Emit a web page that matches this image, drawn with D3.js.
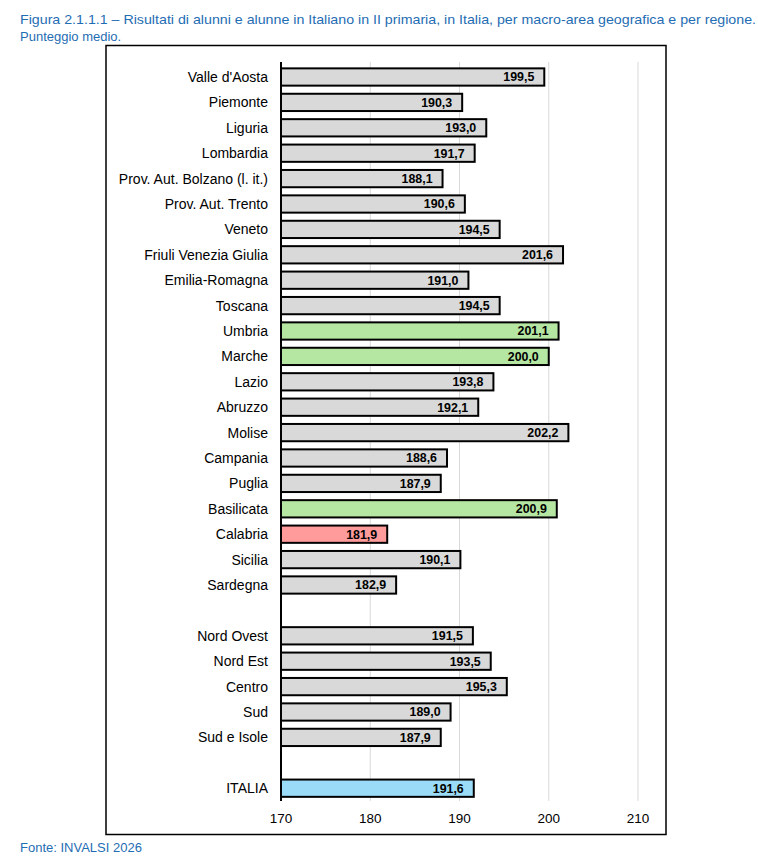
<!DOCTYPE html>
<html>
<head>
<meta charset="utf-8">
<script src="https://cdn.jsdelivr.net/npm/d3@7"></script>
<style>
  body { margin: 0; background: #fff; }
  svg { display: block; font-family: "Liberation Sans", Arial, sans-serif; }
</style>
</head>
<body>
<div id="chart"></div>
<script>
// regions, then macro-areas, then the national total
const regions = ["Valle d'Aosta", "Piemonte", "Liguria", "Lombardia", "Prov. Aut. Bolzano (l. it.)",
  "Prov. Aut. Trento", "Veneto", "Friuli Venezia Giulia", "Emilia-Romagna", "Toscana", "Umbria",
  "Marche", "Lazio", "Abruzzo", "Molise", "Campania", "Puglia", "Basilicata", "Calabria",
  "Sicilia", "Sardegna"];
const regionValues = [199.5, 190.3, 193.0, 191.7, 188.1, 190.6, 194.5, 201.6, 191.0, 194.5, 201.1,
  200.0, 193.8, 192.1, 202.2, 188.6, 187.9, 200.9, 181.9, 190.1, 182.9];
const macroAreas = ["Nord Ovest", "Nord Est", "Centro", "Sud", "Sud e Isole"];
const macroValues = [191.5, 193.5, 195.3, 189.0, 187.9];
const totalLabel = ["ITALIA"];
const totalValues = [191.6];
const xTicks = [170, 180, 190, 200, 210];

// significance: above / below national mean
const higher = ["Umbria", "Marche", "Basilicata"];
const lower = ["Calabria"];

const width = 758;
const height = 862;

const svg = d3.select("#chart")
  .append("svg")
  .attr("width", width)
  .attr("height", height);

// title
const title = svg.append("text")
  .attr("x", 20)
  .attr("y", 24)
  .attr("fill", "#1f6db3")
  .attr("font-size", 13);
title.append("tspan")
  .attr("x", 20)
  .attr("textLength", 736)
  .attr("lengthAdjust", "spacingAndGlyphs")
  .text("Figura 2.1.1.1 – Risultati di alunni e alunne in Italiano in II primaria, in Italia, per macro-area geografica e per regione.");
title.append("tspan")
  .attr("x", 20)
  .attr("dy", 17)
  .text("Punteggio medio.");

// frame
svg.append("rect")
  .attr("x", 106)
  .attr("y", 45.5)
  .attr("width", 560)
  .attr("height", 789)
  .attr("fill", "none")
  .attr("stroke", "#000")
  .attr("stroke-width", 1.5);

const rows = [
  ...regions.map((d, i) => ({ name: d, value: regionValues[i] })),
  { name: "gap1", value: null },
  ...macroAreas.map((d, i) => ({ name: d, value: macroValues[i] })),
  { name: "gap2", value: null },
  ...totalLabel.map((d, i) => ({ name: d, value: totalValues[i] }))
];

const x = d3.scaleLinear()
  .domain([170, 210])
  .range([281, 638]);

const y = d3.scaleBand()
  .domain(rows.map(d => d.name))
  .range([64.3, 64.3 + rows.length * 25.4])
  .paddingInner(0.32)
  .paddingOuter(0.16);

const plotTop = 62;
const plotBottom = y.range()[1];

// grid lines
svg.selectAll("line.grid")
  .data(xTicks.slice(1))
  .enter()
  .append("line")
  .attr("x1", d => x(d))
  .attr("x2", d => x(d))
  .attr("y1", plotTop)
  .attr("y2", plotBottom)
  .attr("stroke", "#d9d9d9")
  .attr("stroke-width", 1);

function fillOf(d) {
  if (d.name === "ITALIA") return "#9adcf7";
  if (higher.includes(d.name)) return "#b5e6a2";
  if (lower.includes(d.name)) return "#ff9b9b";
  return "#d9d9d9";
}

const bars = rows.filter(d => d.value !== null);

svg.selectAll("rect.bar")
  .data(bars)
  .enter()
  .append("rect")
  .attr("x", x(170))
  .attr("y", d => y(d.name))
  .attr("width", d => x(d.value) - x(170))
  .attr("height", y.bandwidth())
  .attr("fill", fillOf)
  .attr("stroke", "#000")
  .attr("stroke-width", 2);

// value labels inside the bar end
svg.selectAll("text.value")
  .data(bars)
  .enter()
  .append("text")
  .attr("x", d => x(d.value) - 10)
  .attr("y", d => y(d.name) + y.bandwidth() / 2)
  .attr("dy", "0.36em")
  .attr("text-anchor", "end")
  .attr("font-size", 12.4)
  .attr("font-weight", "bold")
  .text(d => d3.format(".1f")(d.value).replace(".", ","));

// category labels
svg.selectAll("text.cat")
  .data(bars)
  .enter()
  .append("text")
  .attr("x", 268)
  .attr("y", d => y(d.name) + y.bandwidth() / 2)
  .attr("dy", "0.36em")
  .attr("text-anchor", "end")
  .attr("font-size", 14)
  .text(d => d.name);

// vertical axis line
svg.append("line")
  .attr("x1", x(170))
  .attr("x2", x(170))
  .attr("y1", plotTop)
  .attr("y2", plotBottom)
  .attr("stroke", "#000")
  .attr("stroke-width", 2);

// x axis labels
svg.selectAll("text.tick")
  .data(xTicks)
  .enter()
  .append("text")
  .attr("x", d => x(d))
  .attr("y", 823)
  .attr("text-anchor", "middle")
  .attr("font-size", 13.5)
  .text(d => d);

// source
svg.append("text")
  .attr("x", 20)
  .attr("y", 852)
  .attr("fill", "#1f6db3")
  .attr("font-size", 13)
  .text("Fonte: INVALSI 2026");
</script>
</body>
</html>
